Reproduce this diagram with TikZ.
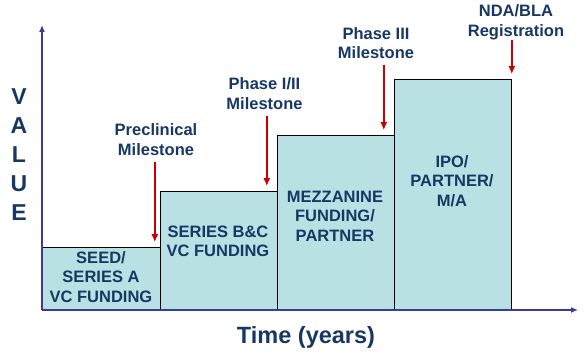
\documentclass[tikz,border=0pt]{standalone}
\usepackage{fontspec}
\setmainfont{Liberation Sans}
\usetikzlibrary{arrows.meta}
\definecolor{navy}{RGB}{23,55,100}
\definecolor{axisblue}{RGB}{58,58,158}
\definecolor{stagefill}{RGB}{185,224,226}
\definecolor{milered}{RGB}{204,0,0}
\tikzset{
  stage/.style={rectangle, draw=black, line width=0.8pt, fill=stagefill,
    anchor=south west, inner sep=0pt},
  stagetext/.style={text=navy, align=center, inner sep=0pt,
    font=\fontsize{16.5}{19.5}\selectfont\bfseries},
  milestone/.style={stagetext},
  axisarrow/.style={-{Latex[length=7pt,width=6pt]}, line width=2pt, draw=axisblue},
  redarrow/.style={-{Latex[length=8pt,width=7pt]}, line width=2pt, draw=milered},
	}

\begin{document}
\begin{tikzpicture}[x=1pt, y=1pt]
    \useasboundingbox (0,0) rectangle (585,351);
    % funding stages
    \node[stage, minimum width=118pt, minimum height=62pt](seed) at (42,41){};
    \node[stage, minimum width=117pt, minimum height=118pt](series) at (160,41){};
    \node[stage, minimum width=117pt, minimum height=174pt](mezz) at (277,41){};
    \node[stage, minimum width=117pt, minimum height=230pt](ipo) at (394,41){};
    \node[stagetext](seedtxt) at (101,74){SEED/\\SERIES A\\VC FUNDING};
    \node[stagetext](seriestxt) at (218,109.5){SERIES B\&C\\VC FUNDING};
    \node[stagetext](mezztxt) at (335,135){MEZZANINE\\FUNDING/\\PARTNER};
    \node[stagetext](ipotxt) at (452,170){IPO/\\PARTNER/\\M/A};
    % axes
    \coordinate (origin) at (42,41);
    \coordinate (ytop) at (42,326);
    \coordinate (xend) at (578,41);
    \draw[axisarrow](origin)--(ytop);
    \draw[axisarrow](origin)--(xend);
    \node[text=navy, align=center, font=\fontsize{23}{29}\selectfont\bfseries](value) at (19,196){V\\A\\L\\U\\E};
    \node[text=navy, font=\fontsize{23.5}{28}\selectfont\bfseries](time) at (306,14){Time (years)};
    % milestones
    \node[milestone](preclin) at (156,211.5){Preclinical\\Milestone};
    \node[milestone](phase12) at (264.5,257.5){Phase I/II\\Milestone};
    \node[milestone](phase3) at (376,308){Phase III\\Milestone};
    \node[milestone](nda) at (516,328.5){NDA/BLA\\Registration};
    \coordinate (tip1) at ([shift={(-6,5)}]seed.north east);
    \coordinate (tip2) at ([shift={(-11,5)}]series.north east);
    \coordinate (tip3) at ([shift={(-11,5)}]mezz.north east);
    \coordinate (tip4) at ([shift={(0,5)}]ipo.north east);
    \draw[redarrow](tip1 |- 0,189)--(tip1);
    \draw[redarrow](tip2 |- 0,235)--(tip2);
    \draw[redarrow](tip3 |- 0,286)--(tip3);
    \draw[redarrow](tip4 |- 0,311)--(tip4);
  \end{tikzpicture}
\end{document}
